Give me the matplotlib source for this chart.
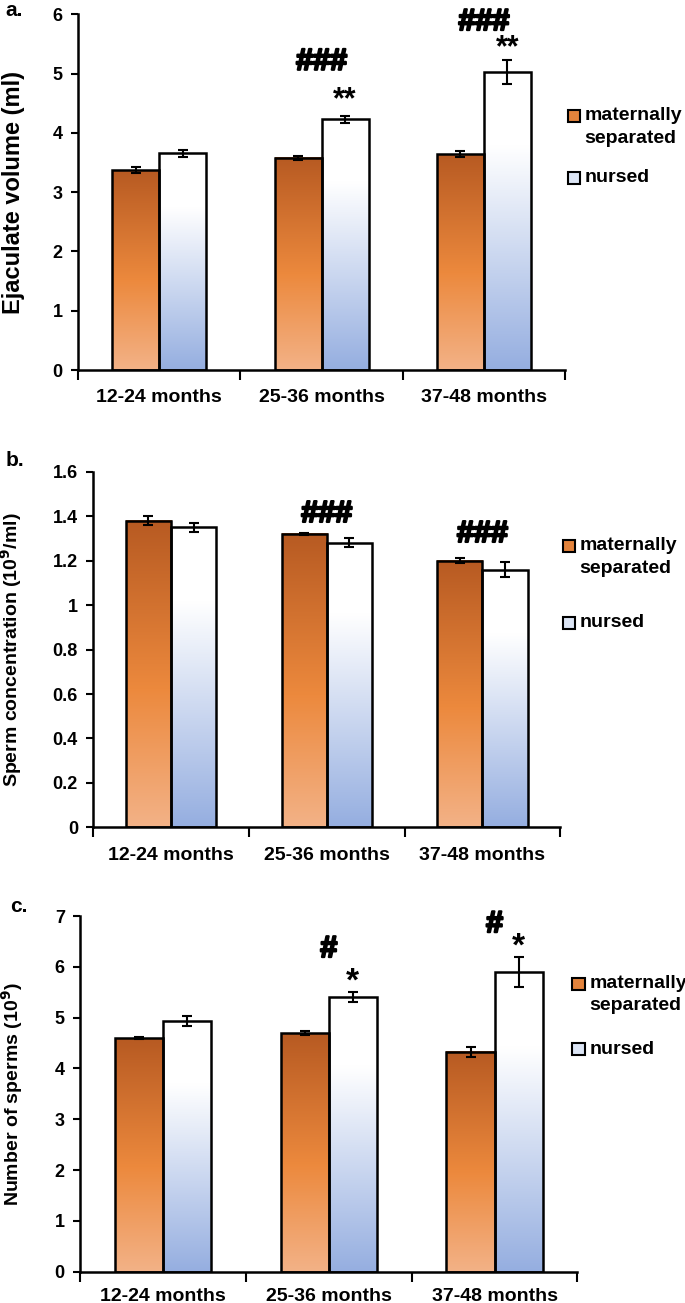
import numpy as np
import matplotlib
matplotlib.use("Agg")
import matplotlib.pyplot as plt
import matplotlib.patheffects as pe
from matplotlib.colors import LinearSegmentedColormap
from matplotlib.patches import Rectangle

plt.rcParams['font.family'] = ['Liberation Sans', 'DejaVu Sans']
plt.rcParams['font.weight'] = 'bold'
plt.rcParams['axes.labelweight'] = 'bold'

# data
groups = ['12-24 months', '25-36 months', '37-48 months']
series = ['maternally\nseparated', 'nursed']

vol_ms = [3.37, 3.58, 3.64]
vol_ms_err = [0.05, 0.03, 0.05]
vol_nu = [3.66, 4.23, 5.03]
vol_nu_err = [0.06, 0.06, 0.20]

conc_ms = [1.38, 1.32, 1.20]
conc_ms_err = [0.02, 0.005, 0.01]
conc_nu = [1.35, 1.28, 1.16]
conc_nu_err = [0.02, 0.02, 0.035]

num_ms = [4.60, 4.70, 4.33]
num_ms_err = [0.02, 0.04, 0.10]
num_nu = [4.93, 5.40, 5.90]
num_nu_err = [0.10, 0.10, 0.30]

orange_cm = LinearSegmentedColormap.from_list('org', [(0, '#F3B287'), (0.45, '#EC893D'), (1, '#B75A22')])
blue_cm = LinearSegmentedColormap.from_list('blu', [(0, '#95AEE0'), (0.75, '#FFFFFF'), (1, '#FFFFFF')])

fig = plt.figure(figsize=(6.85, 13.03), dpi=100)

W = 0.29
grad = np.linspace(0, 1, 256).reshape(-1, 1)


def grad_bars(ax, xs, hs, errs, cmap):
    for x, h, e in zip(xs, hs, errs):
        ax.imshow(grad, cmap=cmap, origin='lower', aspect='auto',
                  extent=[x - W / 2, x + W / 2, 0, h], zorder=2)
    ax.bar(xs, hs, W, fill=False, edgecolor='black', linewidth=1.8, zorder=3)
    ax.errorbar(xs, hs, yerr=errs, fmt='none', ecolor='black', elinewidth=1.5,
                capsize=3.5, capthick=1.5, zorder=4)


def legend(ax, lx, ly1, ly2, sw, sh):
    ax.add_patch(Rectangle((lx, ly1 - sh / 2), sw, sh, transform=ax.transAxes,
                           facecolor='#E3833C', edgecolor='black', lw=1.5, clip_on=False))
    ax.text(lx + sw * 1.35, ly1 + sh * 0.75, series[0], transform=ax.transAxes, fontsize=14,
            fontweight='bold', va='top', ha='left', linespacing=1.45)
    ax.add_patch(Rectangle((lx, ly2 - sh / 2), sw, sh, transform=ax.transAxes,
                           facecolor='#DCE5F5', edgecolor='black', lw=1.5, clip_on=False))
    ax.text(lx + sw * 1.35, ly2, series[1], transform=ax.transAxes, fontsize=14,
            fontweight='bold', va='center', ha='left')


def mark(ax, x, y, s, size=22):
    t = ax.text(x, y, s, ha='center', va='center', fontsize=size, fontweight='bold')
    if '#' in s:
        t.set_path_effects([pe.withStroke(linewidth=1.6, foreground='black')])


def panel(rect, ms, ms_err, nu, nu_err, ymax, ystep, ylabel, ylsize):
    ax = fig.add_axes(rect)
    x = np.arange(len(groups))
    grad_bars(ax, x - W / 2, ms, ms_err, orange_cm)
    grad_bars(ax, x + W / 2, nu, nu_err, blue_cm)
    ax.set_xlim(-0.5, 2.5)
    ax.set_ylim(0, ymax)
    ax.set_yticks(np.arange(0, ymax + ystep / 2, ystep))
    ax.yaxis.set_major_formatter(matplotlib.ticker.FuncFormatter(lambda v, p: f'{v:g}'))
    ax.set_xticks([-0.5, 0.5, 1.5, 2.5])
    ax.set_xticklabels([])
    ax.set_xticks(x, minor=True)
    ax.set_xticklabels(groups, minor=True)
    ax.tick_params(axis='x', which='minor', length=0, labelsize=14, pad=14)
    ax.tick_params(axis='x', which='major', length=7, width=1.5, direction='out')
    ax.tick_params(axis='y', length=5, width=1.5, labelsize=13, pad=6)
    for s in ['top', 'right']:
        ax.spines[s].set_visible(False)
    for s in ['left', 'bottom']:
        ax.spines[s].set_linewidth(1.8)
    ax.set_ylabel(ylabel, fontsize=ylsize, fontweight='bold')
    return ax


# a. ejaculate volume
ax1 = panel([0.114, 0.716, 0.711, 0.273], vol_ms, vol_ms_err, vol_nu, vol_nu_err,
            6, 1, 'Ejaculate volume (ml)', 17)
ax1.yaxis.set_label_coords(-0.108, 0.5)
mark(ax1, 1.0, 5.2, '###')
mark(ax1, 1 + W / 2, 4.55, '**')
mark(ax1, 2.0, 5.87, '###')
mark(ax1, 2 + W / 2, 5.42, '**')
legend(ax1, 1.006, 0.713, 0.54, 0.025, 0.034)
fig.text(0.008, 0.988, 'a.', fontsize=15, fontweight='bold', va='baseline')

# b. sperm concentration
ax2 = panel([0.136, 0.365, 0.682, 0.273], conc_ms, conc_ms_err, conc_nu, conc_nu_err,
            1.6, 0.2, 'Sperm concentration (10$^\\mathbf{9}$/ml)', 14)
ax2.yaxis.set_label_coords(-0.148, 0.5)
mark(ax2, 1.0, 1.41, '###')
mark(ax2, 2.0, 1.32, '###')
legend(ax2, 1.006, 0.79, 0.575, 0.026, 0.034)
fig.text(0.008, 0.642, 'b.', fontsize=15, fontweight='bold', va='baseline')

# c. number of sperms
ax3 = panel([0.117, 0.024, 0.726, 0.273], num_ms, num_ms_err, num_nu, num_nu_err,
            7, 1, 'Number of sperms (10$^\\mathbf{9}$)', 14)
ax3.yaxis.set_label_coords(-0.11, 0.5)
ax3.tick_params(axis='x', which='minor', pad=12)
mark(ax3, 1.0, 6.35, '#')
mark(ax3, 1 + W / 2, 5.7, '*', 24)
mark(ax3, 2.0, 6.84, '#')
mark(ax3, 2 + W / 2, 6.38, '*', 24)
legend(ax3, 0.99, 0.81, 0.625, 0.025, 0.034)
fig.text(0.015, 0.30, 'c.', fontsize=15, fontweight='bold', va='baseline')

fig.savefig('out.png', dpi=100)
